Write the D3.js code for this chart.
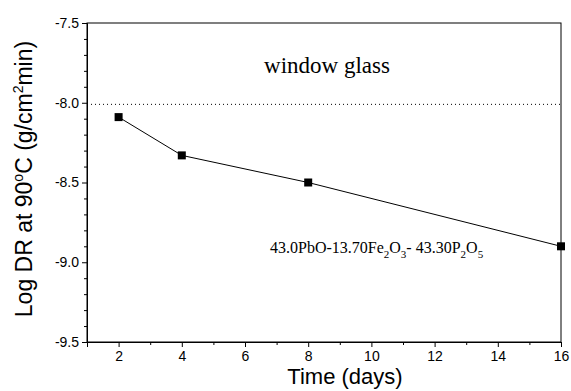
<!DOCTYPE html>
<html>
<head>
<meta charset="utf-8">
<script src="https://cdn.jsdelivr.net/npm/d3@7"></script>
<style>
  body { margin: 0; background: #fff; }
  svg { display: block; }
</style>
</head>
<body>
<svg id="chart" width="571" height="391"></svg>
<script>
// Chart data
const days = [2, 4, 8, 16];
const logDR = [-8.09, -8.33, -8.50, -8.90];
const refLevel = -8.01;  // window glass reference
const xTicks = [2, 4, 6, 8, 10, 12, 14, 16];
const yTicks = [-7.5, -8.0, -8.5, -9.0, -9.5];

const svg = d3.select('#chart');
const margin = { left: 87, right: 10, top: 23, bottom: 49 };
const width = 571, height = 391;

const x = d3.scaleLinear().domain([1, 16]).range([margin.left, width - margin.right]);
const y = d3.scaleLinear().domain([-9.5, -7.5]).range([height - margin.bottom, margin.top]);

const axisFont = 'Arial, "Liberation Sans", sans-serif';
const serif = '"Times New Roman", "Liberation Serif", serif';

// Frame
svg.append('rect')
    .attr('x', x(1)).attr('y', y(-7.5))
    .attr('width', x(16) - x(1)).attr('height', y(-9.5) - y(-7.5))
    .attr('fill', 'none').attr('stroke', '#000').attr('stroke-width', 1);

// X axis
svg.append('g')
    .attr('transform', `translate(0, ${y(-9.5)})`)
    .call(d3.axisBottom(x).tickValues(xTicks).tickSize(5).tickPadding(4).tickFormat(d3.format('d')));
svg.append('g')
    .attr('transform', `translate(0, ${y(-9.5)})`)
    .call(d3.axisBottom(x).tickValues(d3.range(3, 16, 2)).tickSize(3).tickFormat(''))
    .call(g => g.select('.domain').remove());

// Y axis
const yAxis = svg.append('g')
    .attr('transform', `translate(${x(1)}, 0)`)
    .call(d3.axisLeft(y).tickValues(yTicks).tickSize(5).tickPadding(3).tickFormat(d3.format('.1f')));
const yMinor = d3.range(-9.4, -7.5, 0.1).filter(v => Math.abs(v * 2 - Math.round(v * 2)) > 1e-6);
svg.append('g')
    .attr('transform', `translate(${x(1)}, 0)`)
    .call(d3.axisLeft(y).tickValues(yMinor).tickSize(3).tickFormat(''))
    .call(g => g.select('.domain').remove());

svg.selectAll('.domain').attr('stroke', '#000');
svg.selectAll('.tick line').attr('stroke', '#000');
svg.selectAll('.tick text')
    .style('font-family', axisFont)
    .style('font-size', '14px')
    .attr('fill', '#000');
yAxis.selectAll('.tick text').text(d => d3.format('.1f')(d).replace('−', '-'));

// Dotted reference line
svg.append('line')
    .attr('x1', x(1)).attr('x2', x(16))
    .attr('y1', y(refLevel)).attr('y2', y(refLevel))
    .attr('stroke', '#000').attr('stroke-width', 1)
    .attr('stroke-dasharray', '1,3');

// Series line + markers
const pts = days.map((d, i) => ({ d, v: logDR[i] }));
svg.append('path')
    .datum(pts)
    .attr('fill', 'none')
    .attr('stroke', '#000')
    .attr('stroke-width', 1)
    .attr('d', d3.line().x(p => x(p.d)).y(p => y(p.v)));

svg.selectAll('rect.marker')
    .data(pts)
    .enter()
    .append('rect')
    .attr('class', 'marker')
    .attr('x', p => x(p.d) - 4)
    .attr('y', p => y(p.v) - 4)
    .attr('width', 8).attr('height', 8)
    .attr('fill', '#000');

// Annotations
svg.append('text')
    .attr('x', 327).attr('y', 73)
    .attr('text-anchor', 'middle')
    .style('font-family', serif)
    .style('font-size', '23px')
    .text('window glass');

const comp = svg.append('text')
    .attr('x', 270).attr('y', 253)
    .style('font-family', serif)
    .style('font-size', '16px');
const parts = [
    ['43.0PbO-13.70Fe', 0], ['2', 1], ['O', 0], ['3', 1], ['- 43.30P', 0], ['2', 1], ['O', 0], ['5', 1]
];
parts.forEach(([t, sub], i) => {
    const prevSub = i > 0 ? parts[i - 1][1] : 0;
    comp.append('tspan')
        .attr('dy', sub && !prevSub ? 5 : (!sub && prevSub ? -5 : 0))
        .style('font-size', sub ? '11px' : '16px')
        .text(t);
});

// Axis titles
svg.append('text')
    .attr('x', 345).attr('y', 384)
    .attr('text-anchor', 'middle')
    .style('font-family', axisFont)
    .style('font-size', '22px')
    .text('Time (days)');

const yTitle = svg.append('text')
    .attr('transform', `translate(32, 179) rotate(-90)`)
    .attr('text-anchor', 'middle')
    .style('font-family', axisFont)
    .style('font-size', '23px');
yTitle.append('tspan').text('Log DR at 90');
yTitle.append('tspan').attr('dy', -9).style('font-size', '14px').text('o');
yTitle.append('tspan').attr('dy', 9).text('C (g/cm');
yTitle.append('tspan').attr('dy', -9).style('font-size', '14px').text('2');
yTitle.append('tspan').attr('dy', 9).text('min)');
</script>
</body>
</html>
